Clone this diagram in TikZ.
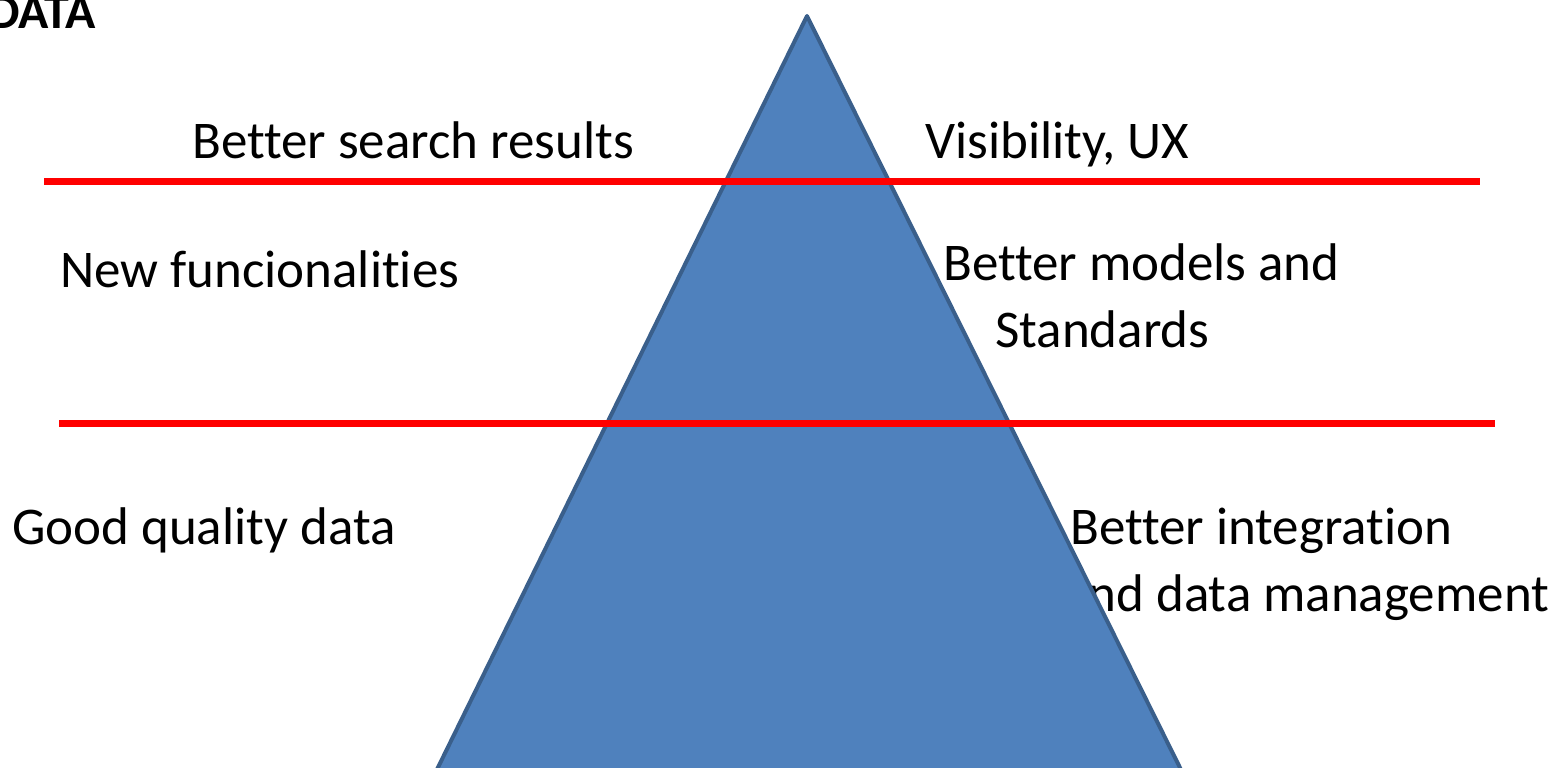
\documentclass[tikz,border=0pt]{standalone}
\usepackage{fontspec}
\setmainfont{Carlito}[Ligatures=NoCommon]
\begin{document}
\begin{tikzpicture}[x=1pt,y=-1pt,
  lbl/.style={anchor=base west,inner sep=0pt,font=\fontsize{53}{67}\selectfont,text=black},
  redline/.style={draw=red,line width=7pt},
  pyramid/.style={fill=pyrfill,draw=pyrline,line width=4pt,line join=round}]
\definecolor{pyrfill}{HTML}{4F81BD}
\definecolor{pyrline}{HTML}{3A5F8B}
\useasboundingbox (0,0) rectangle (1561,768);
\clip (0,0) rectangle (1561,768);
% texts
\node[anchor=base west,inner sep=0pt,font=\fontsize{50}{60}\selectfont\bfseries] (data) at (-12,29) {DATA};
\node[lbl] (search) at (192,158) {Better search results};
\node[lbl] (vis) at (925,158) {Visibility, UX};
\node[lbl] (newf) at (60,287) {New funcionalities};
\node[lbl] (models) at (943,280) {Better models and};
\node[lbl] (std) at (995,347) {Standards};
\node[lbl] (good) at (12,544) {Good quality data};
\node[lbl] (integ) at (1070,544) {Better integration};
\node[lbl] (mgmt) at (1063,611) {and data management};
% pyramid
\coordinate (apex) at (807,16);
\coordinate (bl) at (422,800);
\coordinate (br) at (1196,800);
\draw[pyramid] (apex) -- (br) -- (bl) -- cycle;
% red lines
\coordinate (l1a) at (44,181.5);
\coordinate (l1b) at (1480,181.5);
\coordinate (l2a) at (59,423.5);
\coordinate (l2b) at (1495,423.5);
\draw[redline] (l1a) -- (l1b);
\draw[redline] (l2a) -- (l2b);
\end{tikzpicture}
\end{document}
